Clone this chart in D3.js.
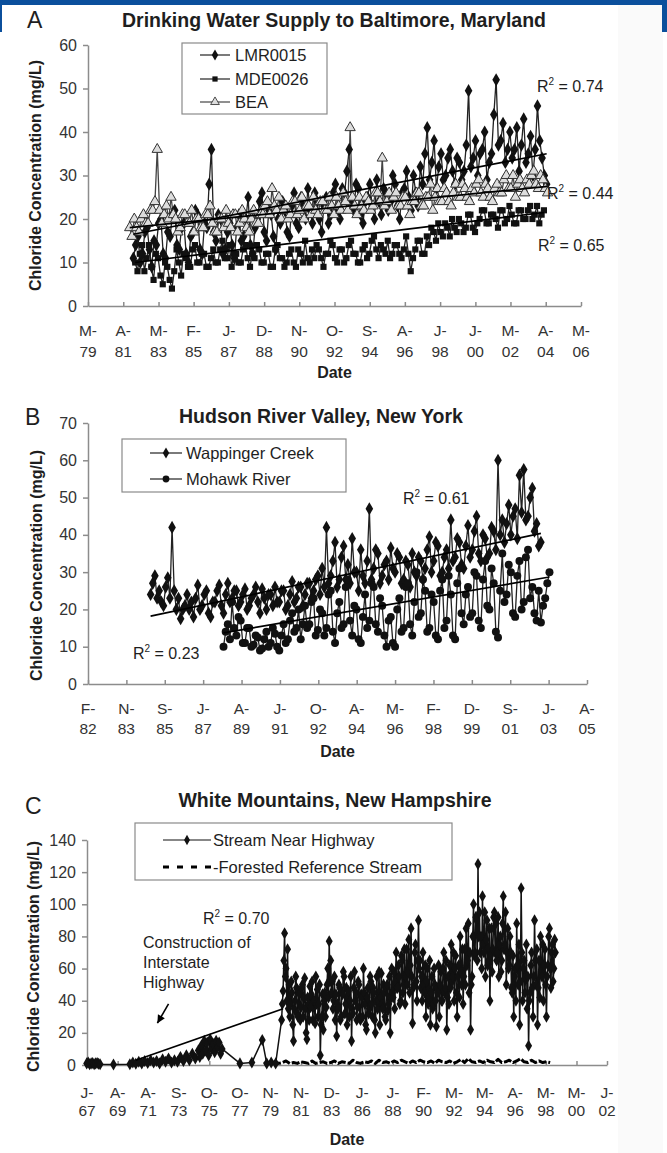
<!DOCTYPE html>
<html>
<head>
<meta charset="utf-8">
<script src="https://cdn.jsdelivr.net/npm/d3@7"></script>
<style>
  body { margin: 0; background: #fff; }
  svg { display: block; }
</style>
</head>
<body>
<svg id="fig" width="667" height="1153"></svg>
<script>
// ---------------- Panel A: Baltimore drinking water supply ----------------
const aTickYears  = [1979.33, 1981.25, 1983.17, 1985.08, 1987.0, 1988.92, 1990.83, 1992.75,
                     1994.67, 1996.58, 1998.5, 2000.42, 2002.33, 2004.25, 2006.17];
const aTickLabels = ["M-79","A-81","M-83","F-85","J-87","D-88","N-90","O-92",
                     "S-94","A-96","J-98","J-00","M-02","A-04","M-06"];
const aYTicks = [0, 10, 20, 30, 40, 50, 60];

// LMR0015, sampled every 1.5 months from 1981.8
const lmrStart = 1981.8, lmrStep = 0.125;
const lmrValues = [
  11,14,16,10,12,17,18,13,9,15,14,19,20,12,11,17,16,21,22,14,
  13,18,19,12,10,16,17,22,21,13,12,19,18,28,36,17,15,21,20,12,
  13,17,19,14,11,18,21,15,16,20,25,14,12,18,20,24,26,17,15,22,
  21,16,13,20,19,24,22,17,16,23,26,19,18,25,23,20,27,22,19,26,
  24,20,17,23,25,19,21,26,28,22,20,27,26,31,36,24,22,28,27,21,
  19,24,25,28,23,20,29,24,21,27,26,22,24,30,28,23,20,26,27,31,
  25,22,30,26,23,32,28,35,41,29,33,38,27,32,35,29,30,34,36,31,
  28,34,33,29,31,37,49.5,32,34,38,30,35,36,40,29,33,35,44,52,37,
  38,42,33,36,40,34,36,41,31,37,43,33,35,39,30,36,46,38,34,30,
  28
];
// MDE0026, sampled every 1.5 months from 1981.9
const mdeStart = 1981.9, mdeStep = 0.125;
const mdeValues = [
  10,8,12,14,8,11,14,9,6,12,11,7,5,10,9,6,4,8,13,10,
  7,12,11,9,9,13,14,10,10,12,12,9,9,11,13,10,10,13,15,11,
  11,14,9,12,12,10,10,13,14,11,9,12,11,14,13,10,10,12,12,9,
  9,13,14,11,11,9,10,12,13,10,9,13,12,10,15,11,10,13,11,14,
  13,11,9,12,12,15,14,11,10,13,13,10,11,14,15,12,12,10,10,13,
  14,11,12,15,16,13,11,14,13,12,15,11,12,14,14,12,11,13,16,12,
  8,11,13,15,15,12,12,16,14,18,17,15,19,17,16,19,18,16,20,18,
  17,20,19,17,18,21,21,18,17,19,20,22,22,19,19,21,21,20,18,22,
  22,19,20,23,21,19,19,22,22,20,20,22,23,20,21,23,19,21,22
];
// BEA, sampled every 1.5 months from 1981.6
const beaStart = 1981.6, beaStep = 0.125;
const beaValues = [
  18,16,20,18,17,20,21,19,19,22,22,24,36,22,19,21,23,20,25,21,
  20,17,18,21,21,19,19,22,17,20,20,18,18,21,21,23,19,17,17,20,
  20,18,22,19,18,21,21,17,19,22,20,18,17,20,22,19,19,21,21,23,
  24,21,27,23,22,25,20,22,23,20,21,24,24,21,22,25,20,23,23,21,
  25,22,21,24,24,22,22,25,23,21,25,23,22,26,24,22,41,25,23,21,
  25,23,22,25,24,22,23,26,26,24,34,23,24,26,22,25,26,23,23,25,
  25,23,21,24,24,26,26,23,23,25,25,28,22,25,27,24,24,27,26,24,
  23,26,28,25,25,28,27,25,24,27,26,28,29,26,25,28,27,25,24,27,
  28,26,26,29,30,27,27,30,25,28,29,27,26,29,28,30,31,28,27,30,
  29,27,26
];
// linear trend end values [first sample, last sample]
const lmrTrend = [16.5, 35];
const mdeTrend = [10, 21.5];
const beaTrend = [18, 27.5];
const aR2 = ["0.74", "0.44", "0.65"];

// ---------------- Panel B: Hudson River Valley ----------------
const bTickYears  = [1982.08, 1983.87, 1985.66, 1987.45, 1989.24, 1991.03, 1992.82,
                     1994.61, 1996.40, 1998.19, 1999.98, 2001.77, 2003.56, 2005.35];
const bTickLabels = ["F-82","N-83","S-85","J-87","A-89","J-91","O-92",
                     "A-94","M-96","F-98","D-99","S-01","J-03","A-05"];
const bYTicks = [0, 10, 20, 30, 40, 50, 60, 70];

const wapStart = 1985.0, wapStep = 0.1;
const wapValues = [
  24,27,29,23,25,22,21,26,28.5,23,42,25,20,23,17.5,20,21,24,20,22,
  18,23,26.5,20,21,24,25,19,18,22,22,25,26.5,21,19,24,27,22,23,25,
  25,21,22,24,25.5,20,21,23,24,26,22,19,25.5,23,20,24,24,21,26,22,
  22,25,25,20,21,24,27.5,22,23,26,26,21,24,27,27,23,25,28,29,24,
  31,26,42,27,29,33,38,26,28,34,37,28,32,27,39,30,30,25,36,29,
  27,33,47,28,31,36,35,27,29,32,33,28,36.5,31,30,35,34,27,28,33,
  32,26,35,30,29,34,33,28,31,36,39.5,30,33,38,37,29,30,34,36,31,
  44,33,34,39,38,32,31,37,42.5,34,36,41,45,35,33,40,39,34,35,42,
  41,36,60,40,44,38,43,48,40,45,47,39,56,46,57.5,44,45,50,52.5,41,
  43,37,38
];
const mohStart = 1988.4, mohStep = 0.1;
const mohValues = [
  10,14,16,12,22,15,13,18,17,11,11,15,15,10,10.5,13,12.5,9,9.5,12,
  14,10,11,15,13.5,10,9,13,16,11,12,17,19,14,15,20,12,16,21,15,
  16,22,23,13,14.5,20,19,13,15,24,25,14,11,19,22,15,16,26,28,17,
  13,21,20,12,11,18,24,15,17,27,26,16,14,23,21,13,10,17,18,11,
  10,20,23,14,15,26,27,16,13,22,30,18,19,28,25,14,15,24,22,13,
  12,25,28,15,17,29,24,13,12,27,31,19,16,24,26,18,19,30,29,17,
  15,28,33,21,20,31,27,14,12.5,25,35,22,24,32,30,19,18,29,33,20,
  22,34,36,23,26,19,17,25,16.5,21,23,27,30
];
const wapTrend = [18.2, 40.4];
const mohTrend = [13.7, 28.7];
const bR2 = ["0.23", "0.61"];

// ---------------- Panel C: White Mountains ----------------
const cTickYears  = [1967.52, 1969.58, 1971.63, 1973.69, 1975.74, 1977.80, 1979.86, 1981.91, 1983.97,
                     1986.02, 1988.08, 1990.14, 1992.19, 1994.25, 1996.30, 1998.36, 2000.42, 2002.47];
const cTickLabels = ["J-67","A-69","A-71","S-73","O-75","O-77","N-79","N-81","D-83",
                     "J-86","J-88","F-90","M-92","M-94","A-96","M-98","M-00","J-02"];
const cYTicks = [0, 20, 40, 60, 80, 100, 120, 140];

// stream near highway, irregular record before 1980.6
const streamEarlyYears = [
  1967.5,1967.6,1967.7,1967.8,1967.9,1968.0,1968.1,1968.2,1968.3,1968.4,
  1969.3,
  1970.4,1970.6,1970.8,1971.0,1971.2,1971.4,1971.6,1971.8,1972.0,1972.2,
  1972.4,1972.6,1972.8,1973.0,1973.2,1973.4,1973.6,1973.8,1974.0,1974.2,
  1974.4,1974.6,1974.8,1975.0,1975.1,1975.2,1975.3,1975.4,1975.5,1975.6,
  1975.7,1975.8,1975.9,1976.0,1976.1,1976.2,1976.3,1976.4,1976.5,1976.6,
  1977.8,1978.6,1979.3,1979.6,1979.9,1980.2
];
const streamEarlyValues = [
  1,1.5,0.5,1,1.2,0.5,1,1.3,0.8,0.5,
  0.3,
  0.5,1.5,0.8,2,1,2.5,1.2,3,1.5,2.5,
  1,3.5,2,4,1.5,3,2,5,2.5,6,
  3,7,4,9,5,12,7,15,9,14,
  6,16,10,13,8,15,11,14,7,10,
  1,1.5,15.5,1,1.5,1
];
// stream near highway, regular record every 0.05 yr from 1980.6
const streamStart = 1980.6, streamStep = 0.05;
const streamValues = [
  28,38,46,65,82,55,60,40,
  72,35,50,30,38,52,45,25,15,35,40,55,48,32,30,46,44,28,36,48,
  50,30,42,54,35,20,16,42,38,28,49,36,44,52,28,40,40,26,55,38,
  47,30,38,50,6,25,30,44,22,40,45,30,36,50,60,42,77,52,65,45,
  52,35,40,55,28,44,18,38,35,50,48,28,30,45,44,58,55,32,38,48,
  25,42,46,30,40,55,15,35,32,48,58,40,45,28,36,52,50,30,28,44,
  42,30,60,45,38,25,22,42,48,32,35,55,52,38,30,48,45,28,20,40,
  55,35,40,58,25,42,57,38,35,50,45,30,28,48,50,34,38,55,20,42,
  60,45,42,58,35,52,70,48,48,62,55,38,40,68,65,45,50,72,38,55,
  72,50,58,78,45,62,85,55,26,48,50,70,75,52,40,65,90,60,65,48,
  55,40,70,50,45,62,30,52,60,38,42,65,25,45,55,35,38,60,50,40,
  24,48,45,62,30,50,58,40,40,60,70,45,48,65,22,42,55,38,62,48,
  75,52,55,70,40,60,68,45,30,55,62,42,80,58,50,72,38,55,72,50,
  85,62,65,88,45,70,22,50,55,80,100,68,70,92,90,65,125,80,95,70,
  80,60,105,75,70,95,55,78,90,62,65,85,40,68,85,58,72,92,95,70,
  88,65,70,92,55,75,80,58,65,88,105,72,75,95,50,70,85,60,62,80,
  70,48,45,68,30,55,60,40,88,62,50,75,25,52,110,70,40,60,65,45,
  55,75,35,55,12,40,45,62,70,48,30,55,90,65,50,72,25,48,65,42,
  80,58,55,75,40,62,72,50,30,55,62,80,85,60,48,70,75,52,60,78,
  70
];
const forestStart = 1979.4, forestStep = 0.25;
const forestValues = [
  1,1.5,1,2,1,1.5,2.5,1,1.5,1,
  2,1.5,1,2.5,1,1.5,2,1,1.5,2.5,
  1,2,1.5,1,3,1.5,1,2,1.5,2.5,
  1,3,1.5,2,1,2.5,1.5,3,2,1,
  2.5,1.5,3,2,1.5,2.5,1,3,2,1.5,
  2.5,1,2,3.5,1.5,4,2,1.5,2.5,1.5,
  3,2,1.5,3.5,1.5,2,3,1.5,2.5,4,
  2,1.5,3,1.5,2.5,1.5,2,1.5
];
// construction-period trend: [year, value] at both ends
const streamTrend = [[1970.8, 3], [1980.7, 35]];
const cR2 = ["0.70"];

// ---------------- drawing ----------------
const FONT = "'Liberation Sans', Arial, Helvetica, sans-serif";
const INK = "#1e1e1e";
const AXIS = "#8c8c8c";
const svg = d3.select("#fig");

// page background and banner
svg.append("rect").attr("width", 667).attr("height", 1153).attr("fill", "#fff");
svg.append("rect").attr("x", 618).attr("y", 0).attr("width", 45).attr("height", 1153).attr("fill", "#fafafa");
svg.append("rect").attr("x", 0).attr("y", 0).attr("width", 667).attr("height", 5).attr("fill", "#0b4f9c");
svg.append("rect").attr("x", 662).attr("y", 0).attr("width", 5).attr("height", 32).attr("fill", "#0b4f9c");
svg.append("rect").attr("x", 0).attr("y", 0).attr("width", 2).attr("height", 32).attr("fill", "#0b4f9c");

const sym = {
  diamond:  d3.symbol(d3.symbolDiamond, 50)(),
  square:   d3.symbol(d3.symbolSquare, 38)(),
  triangle: d3.symbol(d3.symbolTriangle, 46)(),
  circle:   d3.symbol(d3.symbolCircle, 50)(),
  dot:      d3.symbol(d3.symbolDiamond, 42)()
};

const toPts = (start, step, vals) => vals.map((v, i) => [start + i * step, v]);

function text(g, x, y, str, opts = {}) {
  return g.append("text").attr("x", x).attr("y", y)
    .attr("font-family", FONT).attr("font-size", opts.size || 16)
    .attr("font-weight", opts.bold ? "bold" : "normal")
    .attr("text-anchor", opts.anchor || "start")
    .attr("fill", opts.fill || INK).text(str);
}

function r2Label(g, x, y, val) {
  const t = g.append("text").attr("x", x).attr("y", y)
    .attr("font-family", FONT).attr("font-size", 16).attr("fill", INK);
  t.append("tspan").text("R");
  t.append("tspan").attr("font-size", 10).attr("dy", -7).text("2");
  t.append("tspan").attr("dy", 7).text(" = " + val);
}

function panel(cfg) {
  const g = svg.append("g");
  const x = d3.scaleLinear()
    .domain([cfg.ticks[0], cfg.ticks[cfg.ticks.length - 1]])
    .range([cfg.x0, cfg.x1]);
  const y = d3.scaleLinear()
    .domain([0, cfg.yTicks[cfg.yTicks.length - 1]])
    .range([cfg.yBottom, cfg.yTop]);

  // panel letter and title
  text(g, cfg.letterX, cfg.letterY, cfg.letter, { size: 23 });
  text(g, cfg.titleX, cfg.titleY, cfg.title, { size: 19.5, bold: true, anchor: "middle" });

  // axes
  const gy = g.append("g").attr("transform", `translate(${cfg.x0},0)`)
    .call(d3.axisLeft(y).tickValues(cfg.yTicks).tickSize(5).tickSizeOuter(0).tickPadding(6));
  gy.select(".domain").attr("stroke", AXIS).attr("stroke-width", 1.5);
  gy.selectAll(".tick line").attr("stroke", AXIS).attr("stroke-width", 1.5);
  gy.selectAll(".tick text").attr("font-family", FONT).attr("font-size", 16).attr("fill", "#333");

  const gx = g.append("g").attr("transform", `translate(0,${cfg.yBottom})`)
    .call(d3.axisBottom(x).tickValues(cfg.ticks).tickSize(-4).tickSizeOuter(0).tickFormat(""));
  gx.select(".domain").attr("stroke", AXIS).attr("stroke-width", 1.5);
  gx.selectAll(".tick line").attr("stroke", AXIS).attr("stroke-width", 1.5);

  const lab = g.append("g").attr("font-family", FONT).attr("font-size", 15.5)
    .attr("fill", "#333").attr("text-anchor", "middle");
  cfg.ticks.forEach((t, i) => {
    const [a, b] = cfg.tickLabels[i].split("-");
    lab.append("text").attr("x", x(t)).attr("y", cfg.lab1).text(a + "-");
    lab.append("text").attr("x", x(t)).attr("y", cfg.lab2).text(b);
  });

  text(g, (cfg.x0 + cfg.x1) / 2, cfg.dateY, "Date", { bold: true, anchor: "middle" });
  g.append("text")
    .attr("transform", `translate(${cfg.yTitleX},${(cfg.yTop + cfg.yBottom) / 2 + cfg.yTitleShift}) rotate(-90)`)
    .attr("font-family", FONT).attr("font-size", 16).attr("font-weight", "bold")
    .attr("text-anchor", "middle").attr("dy", "0.35em").attr("fill", INK)
    .text("Chloride Concentration (mg/L)");

  // data: lines first, then markers, then trend lines
  const line = d3.line().x(d => x(d[0])).y(d => y(d[1]));
  const dataG = g.append("g");
  cfg.series.forEach(s => {
    dataG.append("path").datum(s.pts).attr("fill", "none")
      .attr("stroke", s.line).attr("stroke-width", s.lw || 1.3)
      .attr("stroke-dasharray", s.dash || null).attr("stroke-linejoin", "round")
      .attr("d", line);
  });
  cfg.series.forEach(s => {
    if (!s.marker) return;
    dataG.append("g").selectAll("path").data(s.pts).join("path")
      .attr("transform", d => `translate(${x(d[0])},${y(d[1])})`)
      .attr("d", sym[s.marker]).attr("fill", s.fill)
      .attr("stroke", s.mstroke || "none").attr("stroke-width", 1);
  });
  cfg.trends.forEach(tr => {
    dataG.append("line")
      .attr("x1", x(tr[0][0])).attr("y1", y(tr[0][1]))
      .attr("x2", x(tr[1][0])).attr("y2", y(tr[1][1]))
      .attr("stroke", "#000").attr("stroke-width", 1.7);
  });

  // legend
  const L = cfg.legend;
  g.append("rect").attr("x", L.x).attr("y", L.y).attr("width", L.w).attr("height", L.h)
    .attr("fill", "#fff").attr("stroke", "#8a8a8a").attr("stroke-width", 1.2);
  L.items.forEach((it, i) => {
    const s = cfg.series[it.series];
    const yy = L.rowY[i];
    g.append("line").attr("x1", L.lx0).attr("x2", L.lx1).attr("y1", yy).attr("y2", yy)
      .attr("stroke", s.legendLine || s.line).attr("stroke-width", s.legendLw || 1.2)
      .attr("stroke-dasharray", s.legendDash || null);
    if (s.marker) {
      g.append("path").attr("transform", `translate(${(L.lx0 + L.lx1) / 2},${yy}) scale(0.85)`)
        .attr("d", sym[s.marker]).attr("fill", s.fill)
        .attr("stroke", s.mstroke || "none").attr("stroke-width", 1);
    }
    text(g, L.tx, yy + 6, it.label, { size: 16.5 });
  });

  return { g, x, y };
}

const span = (pts, tr) => [[pts[0][0], tr[0]], [pts[pts.length - 1][0], tr[1]]];

// Panel A
const lmrPts = toPts(lmrStart, lmrStep, lmrValues);
const mdePts = toPts(mdeStart, mdeStep, mdeValues);
const beaPts = toPts(beaStart, beaStep, beaValues);
const A = panel({
  letter: "A", letterX: 27, letterY: 28,
  title: "Drinking Water Supply to Baltimore, Maryland", titleX: 334, titleY: 27,
  ticks: aTickYears, tickLabels: aTickLabels, yTicks: aYTicks,
  x0: 88, x1: 581, yTop: 45, yBottom: 306,
  lab1: 336, lab2: 357, dateY: 378, yTitleX: 35, yTitleShift: 0,
  series: [
    { pts: mdePts, line: "#222", marker: "square", fill: "#111" },
    { pts: lmrPts, line: "#222", marker: "diamond", fill: "#111" },
    { pts: beaPts, line: "#444", marker: "triangle", fill: "#ddd", mstroke: "#333" }
  ],
  trends: [span(lmrPts, lmrTrend), span(beaPts, beaTrend), span(mdePts, mdeTrend)],
  legend: {
    x: 182, y: 43, w: 145, h: 71, lx0: 200, lx1: 230, tx: 235,
    rowY: [55, 79, 102],
    items: [{ series: 1, label: "LMR0015" }, { series: 0, label: "MDE0026" }, { series: 2, label: "BEA" }]
  }
});
r2Label(A.g, 537, 92, aR2[0]);
r2Label(A.g, 547, 199, aR2[1]);
r2Label(A.g, 538, 251, aR2[2]);

// Panel B
const wapPts = toPts(wapStart, wapStep, wapValues);
const mohPts = toPts(mohStart, mohStep, mohValues);
const B = panel({
  letter: "B", letterX: 25, letterY: 425,
  title: "Hudson River Valley, New York", titleX: 321, titleY: 423,
  ticks: bTickYears, tickLabels: bTickLabels, yTicks: bYTicks,
  x0: 88, x1: 587, yTop: 423, yBottom: 684,
  lab1: 714, lab2: 734, dateY: 757, yTitleX: 36, yTitleShift: 12,
  series: [
    { pts: wapPts, line: "#222", marker: "diamond", fill: "#111" },
    { pts: mohPts, line: "#222", marker: "circle", fill: "#111" }
  ],
  trends: [span(wapPts, wapTrend), span(mohPts, mohTrend)],
  legend: {
    x: 122, y: 439, w: 224, h: 53, lx0: 150, lx1: 182, tx: 186,
    rowY: [453, 479],
    items: [{ series: 0, label: "Wappinger Creek" }, { series: 1, label: "Mohawk River" }]
  }
});
r2Label(B.g, 133, 659, bR2[0]);
r2Label(B.g, 403, 504, bR2[1]);

// Panel C
const streamPts = streamEarlyYears.map((t, i) => [t, streamEarlyValues[i]])
  .concat(toPts(streamStart, streamStep, streamValues));
const forestPts = toPts(forestStart, forestStep, forestValues);
const C = panel({
  letter: "C", letterX: 25, letterY: 814,
  title: "White Mountains, New Hampshire", titleX: 335, titleY: 807,
  ticks: cTickYears, tickLabels: cTickLabels, yTicks: cYTicks,
  x0: 87, x1: 607, yTop: 840, yBottom: 1065,
  lab1: 1098, lab2: 1116, dateY: 1145, yTitleX: 33, yTitleShift: 4,
  series: [
    { pts: streamPts, line: "#111", lw: 1.5, marker: "dot", fill: "#111" },
    { pts: forestPts, line: "#000", lw: 3, dash: "8,2",
      legendLw: 3.2, legendDash: "6,8" }
  ],
  trends: [streamTrend],
  legend: {
    x: 135, y: 823, w: 317, h: 57, lx0: 163, lx1: 211, tx: 213,
    rowY: [840, 867],
    items: [{ series: 0, label: "Stream Near Highway" }, { series: 1, label: "-Forested Reference Stream" }]
  }
});
r2Label(C.g, 203, 924, cR2[0]);
const note = C.g.append("text").attr("font-family", FONT).attr("font-size", 16).attr("fill", INK);
["Construction of", "Interstate", "Highway"].forEach((s, i) =>
  note.append("tspan").attr("x", 143).attr("y", 948 + i * 20).text(s));
// arrow pointing at the construction-period record
const ax0 = C.x(1973.0), ay0 = C.y(38), ax1 = C.x(1972.25), ay1 = C.y(26);
C.g.append("line").attr("x1", ax0).attr("y1", ay0).attr("x2", ax1).attr("y2", ay1)
  .attr("stroke", "#000").attr("stroke-width", 1.6);
const ang = Math.atan2(ay1 - ay0, ax1 - ax0);
const head = [[0, 0], [-8, -4], [-8, 4]].map(([u, v]) =>
  [ax1 + u * Math.cos(ang) - v * Math.sin(ang), ay1 + u * Math.sin(ang) + v * Math.cos(ang)]);
C.g.append("path").attr("d", "M" + head.map(p => p.join(",")).join("L") + "Z").attr("fill", "#000");
</script>
</body>
</html>
